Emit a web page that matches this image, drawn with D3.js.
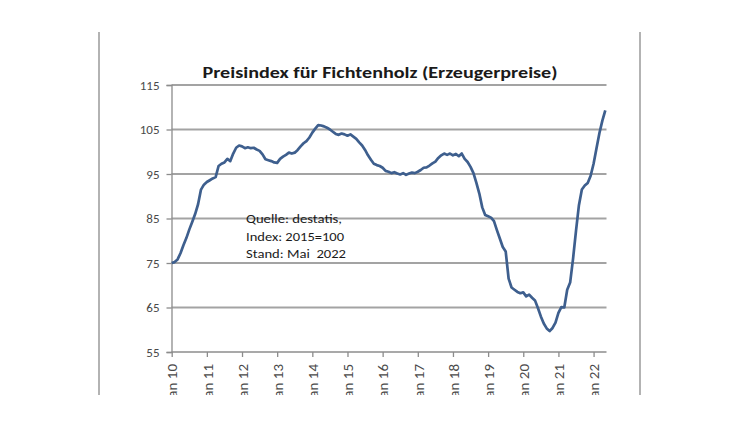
<!DOCTYPE html>
<html>
<head>
<meta charset="utf-8">
<script src="https://cdn.jsdelivr.net/npm/d3@7"></script>
<style>
  body { margin: 0; background: #fff; }
  svg { display: block; }
</style>
</head>
<body>
<script>
const title = "Preisindex für Fichtenholz (Erzeugerpreise)";
const noteLines = ["Quelle: destatis,", "Index: 2015=100", "Stand: Mai  2022"];
const yTicks = [55, 65, 75, 85, 95, 105, 115];
const xTickLabels = ["Jan 10", "Jan 11", "Jan 12", "Jan 13", "Jan 14", "Jan 15", "Jan 16",
  "Jan 17", "Jan 18", "Jan 19", "Jan 20", "Jan 21", "Jan 22"];

// monthly index, Jan 2010 .. May 2022
const v2010 = [75.0, 75.2, 75.8, 77.2, 79.0, 80.6, 82.5, 84.2, 86.0, 88.2, 91.5, 92.6];
const v2011 = [93.2, 93.6, 94.0, 94.3, 96.8, 97.3, 97.6, 98.4, 97.9, 99.6, 100.9, 101.4];
const v2012 = [101.2, 100.8, 101.0, 100.8, 100.9, 100.5, 100.2, 99.4, 98.3, 98.1, 97.9, 97.6];
const v2013 = [97.5, 98.4, 98.9, 99.3, 99.8, 99.6, 99.8, 100.4, 101.2, 101.9, 102.4, 103.2];
const v2014 = [104.3, 105.2, 106.0, 105.9, 105.7, 105.4, 105.0, 104.5, 104.0, 103.8, 104.1, 103.9];
const v2015 = [103.6, 103.9, 103.4, 102.9, 102.1, 101.4, 100.4, 99.2, 98.2, 97.3, 97.0, 96.8];
const v2016 = [96.4, 95.7, 95.5, 95.2, 95.4, 95.1, 94.9, 95.2, 94.8, 95.1, 95.3, 95.2];
const v2017 = [95.5, 95.9, 96.4, 96.5, 96.9, 97.4, 97.8, 98.6, 99.2, 99.6, 99.3, 99.6];
const v2018 = [99.2, 99.5, 99.0, 99.6, 98.4, 97.7, 96.6, 95.2, 93.0, 90.6, 87.5, 85.8];
const v2019 = [85.5, 85.2, 84.4, 82.4, 80.5, 78.6, 77.6, 71.5, 69.5, 69.0, 68.5, 68.2];
const v2020 = [68.4, 67.5, 67.9, 67.2, 66.6, 64.9, 63.0, 61.4, 60.3, 59.7, 60.4, 61.6];
const v2021 = [63.8, 65.1, 65.0, 69.0, 70.6, 76.0, 82.2, 88.0, 91.5, 92.4, 93.0, 94.6];
const v2022 = [97.3, 100.8, 104.2, 107.0, 109.3];

const values = [].concat(v2010, v2011, v2012, v2013, v2014, v2015, v2016,
  v2017, v2018, v2019, v2020, v2021, v2022);

const width = 750;
const height = 432;
const font = "Carlito, Lato, 'Open Sans', sans-serif";

const svg = d3.select("body").append("svg")
  .attr("width", width)
  .attr("height", height);

// the reference picture is cut off just under the axis labels
svg.append("defs").append("clipPath")
  .attr("id", "crop")
  .append("rect")
  .attr("x", 0).attr("y", 0)
  .attr("width", width).attr("height", 395);

const root = svg.append("g").attr("clip-path", "url(#crop)");

root.selectAll("line.frame")
  .data([99, 640])
  .join("line")
  .attr("class", "frame")
  .attr("x1", d => d).attr("x2", d => d)
  .attr("y1", 32).attr("y2", 400)
  .attr("stroke", "#9a9a9a")
  .attr("stroke-width", 1.5);

const x = d3.scaleLinear().domain([0, values.length - 1]).range([171.7, 605.3]);
const y = d3.scaleLinear().domain([55, 115]).range([352, 85]);

// gridlines
root.append("g")
  .selectAll("line")
  .data(yTicks.slice(1))
  .join("line")
  .attr("x1", 171.5).attr("x2", 606.5)
  .attr("y1", d => y(d)).attr("y2", d => y(d))
  .attr("stroke", "#a3a3a3")
  .attr("stroke-width", 1.8);

// y axis
const yAxis = root.append("g")
  .attr("transform", "translate(171.5,0)")
  .call(d3.axisLeft(y).tickValues(yTicks).tickSize(5).tickPadding(7));
yAxis.select(".domain").attr("stroke", "#8c8c8c").attr("stroke-width", 1.3);
yAxis.selectAll(".tick line").attr("stroke", "#8c8c8c").attr("stroke-width", 1.3);
yAxis.selectAll("text")
  .attr("font-family", font)
  .attr("font-size", 13)
  .attr("fill", "#4a4a4a");

// x axis
const xAxis = root.append("g")
  .attr("transform", `translate(0,${y(55)})`)
  .call(d3.axisBottom(x)
    .tickValues(d3.range(0, values.length, 12))
    .tickSize(5)
    .tickSizeOuter(0)
    .tickFormat((d, i) => xTickLabels[i]));
xAxis.select(".domain").attr("d", "M171.5,0H606.5")
  .attr("stroke", "#8c8c8c").attr("stroke-width", 1.3);
xAxis.selectAll(".tick line").attr("stroke", "#8c8c8c").attr("stroke-width", 1.3);
xAxis.selectAll("text")
  .attr("transform", "rotate(-90)")
  .attr("text-anchor", "end")
  .attr("x", -12)
  .attr("y", 0)
  .attr("dy", "0.35em")
  .attr("font-family", font)
  .attr("font-size", 15)
  .attr("fill", "#4a4a4a");

// series
const line = d3.line()
  .x((d, i) => x(i))
  .y(d => y(d));

root.append("path")
  .datum(values)
  .attr("fill", "none")
  .attr("stroke", "#3e5f8e")
  .attr("stroke-width", 2.7)
  .attr("stroke-linejoin", "round")
  .attr("d", line);

// title
root.append("text")
  .attr("x", 380)
  .attr("y", 78)
  .attr("text-anchor", "middle")
  .attr("font-family", font)
  .attr("font-size", 16)
  .attr("font-weight", "bold")
  .attr("fill", "#1a1a1a")
  .attr("textLength", 355)
  .attr("lengthAdjust", "spacingAndGlyphs")
  .text(title);

// source note
root.append("g")
  .selectAll("text")
  .data(noteLines)
  .join("text")
  .attr("x", 246)
  .attr("y", (d, i) => 223 + i * 17.5)
  .attr("font-family", font)
  .attr("font-size", 12)
  .attr("fill", "#1a1a1a")
  .attr("textLength", (d, i) => [96, 98, 100][i])
  .attr("lengthAdjust", "spacingAndGlyphs")
  .style("white-space", "pre")
  .text(d => d);
</script>
</body>
</html>
